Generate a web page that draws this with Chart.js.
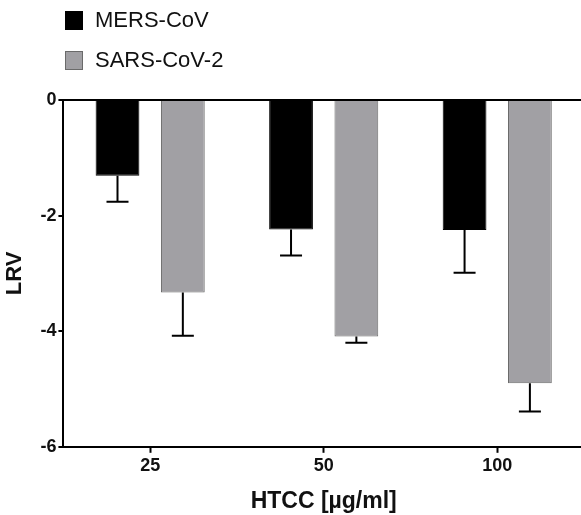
<!DOCTYPE html>
<html>
<head>
<meta charset="utf-8">
<script src="https://cdn.jsdelivr.net/npm/chart.js@4.4.0/dist/chart.umd.min.js"></script>
<style>
  html, body { margin: 0; padding: 0; background: #fff; overflow: hidden; }
  #wrap { position: relative; width: 584px; height: 515px; }
</style>
</head>
<body>
<div id="wrap"><canvas id="lrvChart"></canvas></div>
<script>
const categories = ['25', '50', '100']
const mersValues = [-1.31, -2.24, -2.25]
const mersErrors = [0.45, 0.45, 0.74]
const sarsValues = [-3.33, -4.09, -4.90]
const sarsErrors = [0.75, 0.11, 0.49]
const yTicks = [0, -2, -4, -6]

const fontFamily = "'Liberation Sans', Arial, Helvetica, sans-serif"

// error bars only go down (away from zero)
const errorBars = {
    id: 'errorBars',
    afterDatasetsDraw(chart) {
        const ctx = chart.ctx
        const yScale = chart.scales.y
        chart.data.datasets.forEach((ds, di) => {
            const meta = chart.getDatasetMeta(di)
            meta.data.forEach((bar, i) => {
                const end = yScale.getPixelForValue(ds.data[i] - ds.errors[i])
                ctx.save()
                ctx.strokeStyle = '#000'
                ctx.lineWidth = 2
                ctx.beginPath()
                ctx.moveTo(bar.x, bar.y)
                ctx.lineTo(bar.x, end)
                ctx.moveTo(bar.x - 11, end)
                ctx.lineTo(bar.x + 11, end)
                ctx.stroke()
                ctx.restore()
            })
        })
    }
}

// stacked legend in the top-left corner
const stackedLegend = {
    id: 'stackedLegend',
    afterDraw(chart) {
        const ctx = chart.ctx
        ctx.save()
        ctx.font = '22px ' + fontFamily
        ctx.textBaseline = 'middle'
        chart.data.datasets.forEach((ds, i) => {
            const top = 11 + i * 40
            ctx.fillStyle = ds.backgroundColor
            ctx.fillRect(65, top, 18, 19)
            ctx.strokeStyle = ds.borderColor
            ctx.lineWidth = 1
            ctx.strokeRect(65.5, top + 0.5, 17, 18)
            ctx.fillStyle = '#111'
            ctx.fillText(ds.label, 95, top + 10)
        })
        ctx.restore()
    }
}

const canvas = document.getElementById('lrvChart')
const lrvChart = new Chart(canvas, {
    type: 'bar',
    data: {
        labels: categories,
        datasets: [{
            label: 'MERS-CoV',
            data: mersValues,
            errors: mersErrors,
            backgroundColor: '#000000',
            borderColor: '#000000',
            borderWidth: 1
        }, {
            label: 'SARS-CoV-2',
            data: sarsValues,
            errors: sarsErrors,
            backgroundColor: '#a1a0a4',
            borderColor: '#6a6a6a',
            borderWidth: 1
        }]
    },
    options: {
        responsive: true,
        maintainAspectRatio: false,
        animation: false,
        categoryPercentage: 0.753,
        barPercentage: 0.67,
        layout: {
            padding: { top: 100, left: 2, right: 0, bottom: 0 }
        },
        plugins: {
            legend: { display: false },
            tooltip: { enabled: false }
        },
        scales: {
            x: {
                grid: {
                    display: true,
                    drawOnChartArea: false,
                    offset: false,
                    tickLength: 6,
                    tickColor: '#000',
                    tickWidth: 2
                },
                border: { display: true, color: '#000', width: 2 },
                ticks: {
                    color: '#111',
                    padding: 2,
                    font: { family: fontFamily, size: 18, weight: 'bold' }
                },
                title: {
                    display: true,
                    text: 'HTCC [µg/ml]',
                    color: '#111',
                    padding: { top: 9, bottom: 0 },
                    font: { family: fontFamily, size: 23, weight: 'bold' }
                }
            },
            y: {
                min: -6,
                max: 0,
                afterBuildTicks(axis) {
                    axis.ticks = yTicks.map(v => ({ value: v }))
                },
                grid: {
                    color: c => c.tick && c.tick.value === 0 ? '#000' : 'rgba(0,0,0,0)',
                    lineWidth: 2,
                    tickColor: '#000',
                    tickWidth: 2,
                    tickLength: 5
                },
                border: { display: true, color: '#000', width: 2 },
                ticks: {
                    color: '#111',
                    padding: 2,
                    font: { family: fontFamily, size: 18, weight: 'bold' }
                },
                title: {
                    display: true,
                    text: 'LRV',
                    color: '#111',
                    padding: { top: 0, bottom: 10 },
                    font: { family: fontFamily, size: 22, weight: 'bold' }
                }
            }
        }
    },
    plugins: [errorBars, stackedLegend]
})
</script>
</body>
</html>
